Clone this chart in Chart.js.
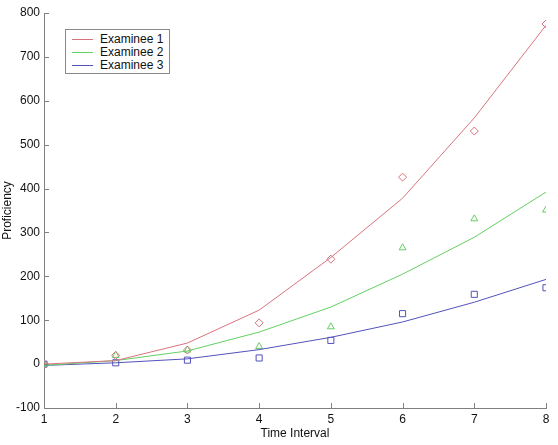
<!DOCTYPE html>
<html>
<head>
<meta charset="utf-8">
<script src="https://cdn.jsdelivr.net/npm/chart.js@4/dist/chart.umd.min.js"></script>
<style>
  html, body { margin: 0; padding: 0; background: #fff; }
  #wrap { position: relative; width: 558px; height: 445px; }
  #legend {
    position: absolute; left: 65px; top: 29px; width: 103px; height: 43px;
    border: 1px solid #8a8a8a; background: #fff;
    font: 12px "Liberation Sans", Arial, sans-serif; color: #111;
  }
  #legend .row { position: absolute; left: 0; height: 14px; line-height: 14px; }
  #legend .swatch { position: absolute; left: 6px; top: 7px; width: 21px; height: 1px; }
  #legend .label { position: absolute; left: 34px; top: 0; white-space: nowrap; }
</style>
</head>
<body>
<div id="wrap">
  <canvas id="chart" width="558" height="445"></canvas>
  <div id="legend"></div>
</div>
<script>
const timeSteps = [1, 2, 3, 4, 5, 6, 7, 8];
const examinees = ['Examinee 1', 'Examinee 2', 'Examinee 3'];
const colors = ['#d8737e', '#62d062', '#5252bb'];
const markers = ['rectRot', 'triangle', 'rect'];

// observed scores (markers)
const ex1Observed = [0, 20, 32, 94, 239, 426, 531, 775];
const ex2Observed = [0, 20, 32, 40, 85, 265, 331, 351];
const ex3Observed = [0, 3, 9, 14, 54, 115, 159, 174];

// fitted curves (lines)
const ex1Fitted = [0, 8, 48, 123, 243, 378, 561, 772];
const ex2Fitted = [-3, 8, 30, 73, 130, 205, 289, 392];
const ex3Fitted = [-3, 3, 12, 33, 61, 96, 141, 193];

const observed = [ex1Observed, ex2Observed, ex3Observed];
const fitted = [ex1Fitted, ex2Fitted, ex3Fitted];
const markerSizes = [4, 4, 4.3];

const toPoints = (values) => values.map((y, i) => ({ x: timeSteps[i], y }));

const datasets = [];
fitted.forEach((values, i) => {
  datasets.push({
    label: examinees[i],
    data: toPoints(values),
    showLine: true,
    borderColor: colors[i],
    borderWidth: 1,
    pointRadius: 0,
    tension: 0,
  });
});
observed.forEach((values, i) => {
  datasets.push({
    label: examinees[i] + ' observed',
    data: toPoints(values),
    showLine: false,
    borderColor: colors[i],
    backgroundColor: 'rgba(0,0,0,0)',
    pointStyle: markers[i],
    pointRadius: markerSizes[i],
    pointBorderWidth: 1,
  });
});

// matlab style ticks pointing into the plot
const inwardTicks = {
  id: 'inwardTicks',
  afterDraw(chart) {
    const { ctx, chartArea, scales } = chart;
    ctx.save();
    ctx.strokeStyle = '#808080';
    ctx.lineWidth = 1;
    ctx.beginPath();
    scales.y.ticks.forEach((t) => {
      const py = Math.round(scales.y.getPixelForValue(t.value)) + 0.5;
      ctx.moveTo(chartArea.left, py);
      ctx.lineTo(chartArea.left + 5, py);
    });
    scales.x.ticks.forEach((t) => {
      const px = Math.round(scales.x.getPixelForValue(t.value)) + 0.5;
      ctx.moveTo(px, chartArea.bottom);
      ctx.lineTo(px, chartArea.bottom - 5);
    });
    ctx.stroke();
    ctx.restore();
  },
};

const font = { family: '"Liberation Sans", Arial, sans-serif', size: 12 };

new Chart(document.getElementById('chart'), {
  type: 'scatter',
  data: { datasets },
  options: {
    responsive: false,
    animation: false,
    layout: { padding: { top: 13, right: 12, left: 0, bottom: 0 } },
    scales: {
      x: {
        type: 'linear',
        min: 1,
        max: 8,
        ticks: { stepSize: 1, color: '#111', font, padding: 4 },
        grid: { display: false, drawTicks: false },
        border: { display: true, color: '#808080' },
        title: { display: true, text: 'Time Interval', color: '#111', font, padding: { top: 0, bottom: 4 } },
        afterFit: (scale) => { scale.height = 37; },
      },
      y: {
        min: -100,
        max: 800,
        ticks: { stepSize: 100, color: '#111', font, padding: 4 },
        grid: { display: false, drawTicks: false },
        border: { display: true, color: '#808080' },
        title: { display: true, text: 'Proficiency', color: '#111', font, padding: { top: 0, bottom: 0 } },
        afterFit: (scale) => { scale.width = 44; },
      },
    },
    plugins: {
      legend: { display: false },
      tooltip: { enabled: false },
    },
  },
  plugins: [inwardTicks],
});

const legend = document.getElementById('legend');
examinees.forEach((name, i) => {
  const row = document.createElement('div');
  row.className = 'row';
  row.style.top = (2 + i * 13) + 'px';
  row.style.width = '100%';
  row.innerHTML = `<span class="swatch" style="background:${colors[i]}"></span><span class="label">${name}</span>`;
  legend.appendChild(row);
});
</script>
</body>
</html>
